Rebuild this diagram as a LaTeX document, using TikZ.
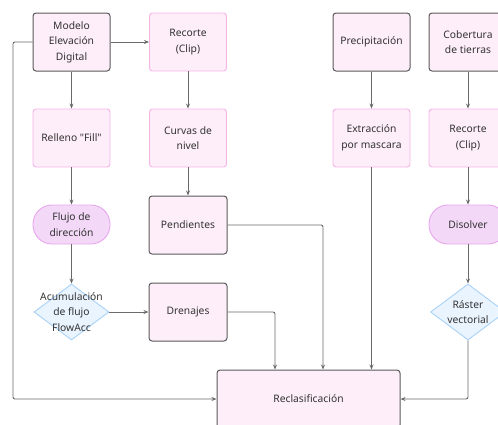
\documentclass[tikz,border=0pt]{standalone}
\usepackage{fontspec}
\setmainfont{Noto Sans}[Ligatures=TeXOff]
\usetikzlibrary{shapes.geometric,arrows.meta}
\definecolor{pinkfill}{HTML}{FDEEFA}
\definecolor{pinkline}{HTML}{F6B3E6}
\definecolor{darkline}{HTML}{5A5A5A}
\definecolor{stadfill}{HTML}{F3D9F7}
\definecolor{stadline}{HTML}{E7A6EE}
\definecolor{diafill}{HTML}{EAF4FE}
\definecolor{dialine}{HTML}{A8D2F8}
\definecolor{conn}{HTML}{6A6A6A}
\definecolor{txt}{HTML}{333333}
\tikzset{
  x=1pt,y=-1pt,
  every node/.style={font=\fontsize{10.3}{15.5}\selectfont,text=txt,align=center},
  pinkbox/.style={draw=pinkline,fill=pinkfill,line width=0.9pt,rounded corners=3pt,minimum width=77pt,minimum height=58pt,inner sep=0pt},
  darkbox/.style={draw=darkline,fill=pinkfill,line width=1pt,rounded corners=3pt,minimum width=77pt,minimum height=58pt,inner sep=0pt},
  stad/.style={draw=stadline,fill=stadfill,line width=0.9pt,rounded corners=19pt,minimum width=77pt,minimum height=39pt,inner sep=0pt},
  dia/.style={diamond,draw=dialine,fill=diafill,line width=0.9pt,minimum width=75pt,minimum height=56pt,inner sep=0pt},
  arr/.style={draw=conn,line width=0.9pt,rounded corners=2pt,-{Stealth[length=5pt,width=4pt]}},
}
\begin{document}
\begin{tikzpicture}
\useasboundingbox (0,0) rectangle (498,424);
\node[darkbox] (mde) at (71.5,42) {Modelo\\Elevación\\Digital};
\node[pinkbox] (rec1) at (188,42) {Recorte\\(Clip)};
\node[pinkbox] (rell) at (71.5,138) {Relleno "Fill"};
\node[pinkbox] (curv) at (188,138) {Curvas de\\nivel};
\node[darkbox] (prec) at (371.5,42) {Precipitación};
\node[darkbox,minimum width=78pt] (cob) at (468,42) {Cobertura\\de tierras};
\node[pinkbox] (extr) at (371.5,138) {Extracción\\por mascara};
\node[pinkbox,minimum width=78pt] (rec2) at (468,138) {Recorte\\(Clip)};
\node[stad] (flujo) at (71.5,224.5) {Flujo de\\dirección};
\node[darkbox,minimum width=78pt] (pend) at (188,225) {Pendientes};
\node[dia,label={[align=center]center:Acumulación\\de flujo\\FlowAcc}] (acum) at (71.5,312) {};
\node[darkbox,minimum width=78pt] (dren) at (188,312) {Drenajes};
\node[stad,minimum width=78pt] (disol) at (468,224.5) {Disolver};
\node[dia,label={[align=center]center:Ráster\\vectorial}] (rast) at (468,312) {};
\node[darkbox,minimum width=183pt] (recl) at (308.5,399) {Reclasificación};
\coordinate (cl1) at (13,42);
\coordinate (cl2) at (13,399);
\draw[arr] (mde.east) -- (rec1.west);
\draw[arr] (mde.west) -- (cl1) -- (cl2) -- (recl.west);
\draw[arr] (mde.south) -- (rell.north);
\draw[arr] (rell.south) -- (flujo.north);
\draw[arr] (flujo.south) -- (acum.north);
\draw[arr] (acum.east) -- (dren.west);
\draw[arr] (rec1.south) -- (curv.north);
\draw[arr] (curv.south) -- (pend.north);
\draw[arr] (pend.east) -| (recl.north -| 323,0);
\draw[arr] (dren.east) -| (recl.north -| 275,0);
\draw[arr] (prec.south) -- (extr.north);
\draw[arr] (extr.south) -- (recl.north -| extr.south);
\draw[arr] (cob.south) -- (rec2.north);
\draw[arr] (rec2.south) -- (disol.north);
\draw[arr] (disol.south) -- (rast.north);
\draw[arr] (rast.south) |- (recl.east);
\end{tikzpicture}
\end{document}
